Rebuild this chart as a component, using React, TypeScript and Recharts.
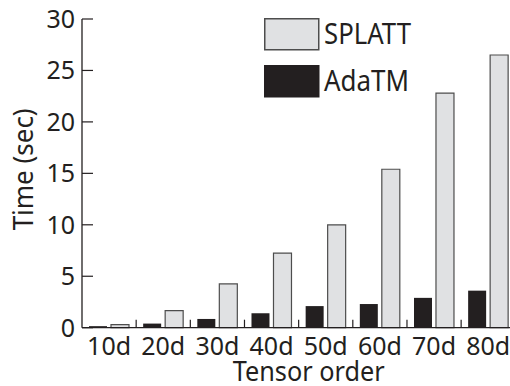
import React from 'react';
import { BarChart, Bar, XAxis, YAxis, Legend } from 'recharts';

const categories = ['10d', '20d', '30d', '40d', '50d', '60d', '70d', '80d'];
const adatmTimes = [0.15, 0.4, 0.85, 1.4, 2.1, 2.3, 2.9, 3.6];
const splattTimes = [0.3, 1.65, 4.25, 7.25, 10.0, 15.4, 22.8, 26.5];
const yTicks = [0, 5, 10, 15, 20, 25, 30];
const legendOrder = ['SPLATT', 'AdaTM'];

const data = categories.map((c, i) => ({ name: c, AdaTM: adatmTimes[i], SPLATT: splattTimes[i] }));

const FONT = '"Noto Sans", "Open Sans", sans-serif';
const INK = '#231f20';
const SPLATT_FILL = '#e0e1e3';
const SPLATT_STROKE = '#4d4d4d';

const XTick = (props: any) => {
  const { x, y, payload, index, width, visibleTicksCount } = props;
  const off = payload && payload.offset != null ? payload.offset : width / visibleTicksCount / 2;
  return (
    <g>
      {index > 0 && (
        <line x1={x - off} x2={x - off} y1={y} y2={y - 8} stroke={INK} strokeWidth={1.2} />
      )}
      <text x={x} y={y + 27} textAnchor="middle" fontFamily={FONT} fontSize={25} fill={INK}>
        {payload.value}
      </text>
    </g>
  );
};

const YTick = (props: any) => {
  const { x, y, payload } = props;
  return (
    <g>
      <line x1={x} x2={x + 11} y1={y} y2={y} stroke={INK} strokeWidth={1.2} />
      <text x={x - 7} y={y} dy="0.36em" textAnchor="end" fontFamily={FONT} fontSize={25} fill={INK}>
        {payload.value}
      </text>
    </g>
  );
};

const XTitle = (props: any) => {
  const { viewBox } = props;
  const cx = viewBox.x + viewBox.width / 2 + 10;
  return (
    <text x={cx} y={viewBox.y + 53.5} textAnchor="middle" fontFamily={FONT} fontSize={28} fill={INK}
      textLength={152} lengthAdjust="spacingAndGlyphs">
      Tensor order
    </text>
  );
};

const YTitle = (props: any) => {
  const { viewBox } = props;
  const cy = viewBox.y + viewBox.height / 2 - 4;
  const cx = 33;
  return (
    <text x={cx} y={cy} transform={`rotate(-90, ${cx}, ${cy})`} textAnchor="middle" fontFamily={FONT}
      fontSize={28} fill={INK} textLength={122} lengthAdjust="spacingAndGlyphs">
      Time (sec)
    </text>
  );
};

const legendStyle: Record<string, { fill: string; stroke: string; len: number }> = {
  SPLATT: { fill: SPLATT_FILL, stroke: SPLATT_STROKE, len: 87 },
  AdaTM: { fill: INK, stroke: INK, len: 85 },
};

const renderLegend = () => (
  <svg width={200} height={82} style={{ display: 'block' }}>
    {legendOrder.map((name, i) => {
      const top = i * 47;
      const s = legendStyle[name];
      return (
        <g key={name}>
          <rect x={0.75} y={top + 0.75} width={54} height={31} fill={s.fill} stroke={s.stroke} strokeWidth={1.5} />
          <text x={60} y={top + 25.5} fontFamily={FONT} fontSize={29} fill={INK}
            textLength={s.len} lengthAdjust="spacingAndGlyphs">
            {name}
          </text>
        </g>
      );
    })}
  </svg>
);

export default function App() {
  return (
    <div style={{ position: 'absolute', left: 0, top: 0, width: 510, height: 386, overflow: 'hidden', background: '#fff' }}>
      <BarChart
        width={520}
        height={386}
        data={data}
        margin={{ top: 19, right: 4.7, bottom: 0, left: 0 }}
        barCategoryGap={7}
        barGap={4}
      >
        <XAxis
          dataKey="name"
          height={58.3}
          tickLine={false}
          tickSize={0}
          tickMargin={0}
          interval={0}
          axisLine={{ stroke: INK, strokeWidth: 1.3 }}
          tick={<XTick />}
          label={<XTitle />}
        />
        <YAxis
          width={82}
          domain={[0, 30]}
          ticks={yTicks}
          interval={0}
          tickLine={false}
          tickSize={0}
          tickMargin={0}
          axisLine={{ stroke: INK, strokeWidth: 1.3 }}
          tick={<YTick />}
          label={<YTitle />}
        />
        <Legend
          layout="horizontal"
          verticalAlign="middle"
          align="center"
          content={renderLegend}
          wrapperStyle={{ position: 'absolute', left: 264, top: 18, width: 200, height: 82 }}
        />
        <Bar dataKey="AdaTM" fill={INK} isAnimationActive={false} />
        <Bar dataKey="SPLATT" fill={SPLATT_FILL} stroke={SPLATT_STROKE} strokeWidth={1.2} isAnimationActive={false} />
      </BarChart>
    </div>
  );
}
